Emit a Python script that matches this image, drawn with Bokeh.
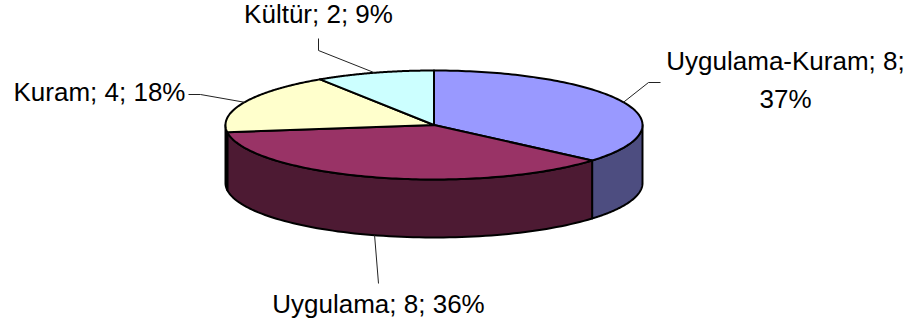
import numpy as np
from bokeh.plotting import figure
from bokeh.models import Range1d
from bokeh.core.properties import value
from bokeh.embed import file_html
from bokeh.resources import INLINE

# Data (clockwise from 12 o'clock)
names = ["Uygulama-Kuram", "Uygulama", "Kuram", "Kültür"]
counts = [8, 8, 4, 2]
percents = [37, 36, 18, 9]
# slice shares as drawn (tilted projection makes them differ slightly from labels)
drawn_shares = [36.3, 36.6, 17.9, 9.2]
top_colors = ["#9999FF", "#993366", "#FFFFCC", "#CCFFFF"]
side_colors = ["#4D4D80", "#4D1A33", "#808066", "#668080"]

# Layout (page pixels)
CX, CY, RX, RY, DEPTH = 433.5, 124.5, 208.5, 54.5, 58
FONT = "Liberation Sans"
FONT_SIZE = "26px"
label_lines = [
    [("Uygulama-Kuram; 8;", 785, 60), ("37%", 785, 98)],
    [("Uygulama; 8; 36%", 378, 303)],
    [("Kuram; 4; 18%", 99, 91)],
    [("Kültür; 2; 9%", 318, 13)],
]
elbows = [(648, 82, 660, 82), (378, 283, 378, 283), (200, 94, 188, 94), (318, 50, 318, 38)]

p = figure(width=907, height=327, output_backend="svg", toolbar_location=None,
           x_range=Range1d(0, 907), y_range=Range1d(327, 0), min_border=0,
           background_fill_color="white", border_fill_color="white", outline_line_color=None)
p.axis.visible = False
p.grid.visible = False

def pt(deg, dy=0.0):
    a = np.radians(deg)
    return CX + RX * np.sin(a), CY - RY * np.cos(a) + dy

edges = np.concatenate([[0], np.cumsum(drawn_shares)]) / sum(drawn_shares) * 360

# Visible rim (from 90 to 270 degrees clockwise from the top)
for i in range(len(names)):
    a0, a1 = max(edges[i], 90), min(edges[i + 1], 270)
    if a1 <= a0:
        continue
    t = np.linspace(a0, a1, 80)
    xs, ys_top = pt(t)
    _, ys_bot = pt(t, DEPTH)
    p.patch(np.r_[xs, xs[::-1]], np.r_[ys_top, ys_bot[::-1]],
            fill_color=side_colors[i], line_color="black", line_width=2, line_join="round")

# Top faces
for i in range(len(names)):
    t = np.linspace(edges[i], edges[i + 1], 120)
    xs, ys = pt(t)
    p.patch(np.r_[CX, xs], np.r_[CY, ys],
            fill_color=top_colors[i], line_color="black", line_width=2, line_join="round")

# Leader lines, anchored at each slice's mid angle
for i in range(len(names)):
    mid = (edges[i] + edges[i + 1]) / 2
    ax, ay = pt(mid, DEPTH if 90 < mid < 270 else 0)
    ex, ey, lx, ly = elbows[i]
    p.line([ax, ex, lx], [ay, ey, ly], line_color="#222222", line_width=1)

# Labels
for lines in label_lines:
    for txt, x, y in lines:
        p.text([x], [y], text=[txt], text_font=value(FONT), text_font_size=FONT_SIZE,
               text_color="black", text_align="center", text_baseline="middle")

open("out.html", "w").write(file_html(p, INLINE))
